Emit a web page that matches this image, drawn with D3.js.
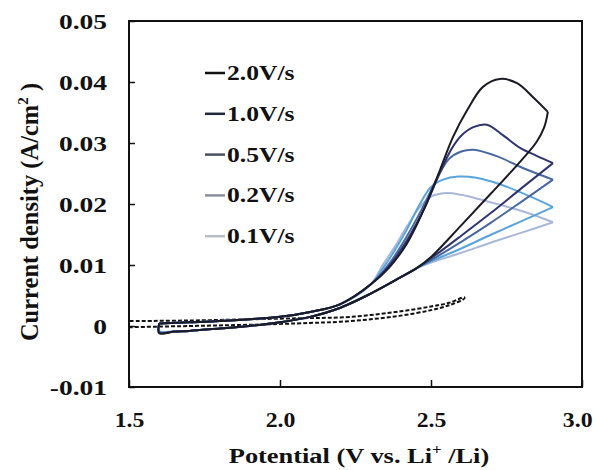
<!DOCTYPE html>
<html><head><meta charset="utf-8">
<script src="https://cdn.jsdelivr.net/npm/d3@7/dist/d3.min.js"></script>
<style>
html,body{margin:0;padding:0;background:#fff;}
text{font-family:"Liberation Serif","Times New Roman",serif;font-weight:bold;fill:#111;}
</style></head>
<body><svg id="c" width="593" height="470"></svg>
<script>
// ---- data ----
const xTicks = [1.5, 2.0, 2.5, 3.0];
const xTickLabels = ["1.5", "2.0", "2.5", "3.0"];
const yTicks = [-0.01, 0, 0.01, 0.02, 0.03, 0.04, 0.05];
const yTickLabels = ["-0.01", "0", "0.01", "0.02", "0.03", "0.04", "0.05"];
const rates = ["2.0V/s", "1.0V/s", "0.5V/s", "0.2V/s", "0.1V/s"];

// start of forward scan at 1.6 V for each rate
const startLow = [-0.0012, -0.0011, -0.0010, -0.0009, -0.0008];
const closeTop = [1.6, 0.0004];
const lowForward = [[1.65,-0.0009],[1.7,-0.0008],[1.8,-0.0004],[1.9,0.0000],[2.0,0.0006],[2.1,0.0015],[2.2,0.0030],[2.3,0.0053],[2.4,0.0080],[2.45,0.0094]];
const lowReturn = [[2.3,0.0068],[2.2,0.0036],[2.1,0.0023],[2.0,0.0015],[1.9,0.0011],[1.8,0.0008],[1.7,0.0006],[1.6,0.0004]];

const rise20 = [[2.5,0.0113],[2.6,0.0165],[2.7,0.0218],[2.8,0.0272],[2.85,0.0302],[2.875,0.0326],[2.887,0.0351]];
const desc20 = [[2.887,0.0351],[2.838,0.0375],[2.785,0.0398],[2.728,0.0405],[2.672,0.0392],[2.62,0.0354],[2.573,0.0310],[2.53,0.0256],[2.48,0.0195],[2.42,0.0135],[2.36,0.0095]];
const rise10 = [[2.5,0.0111],[2.6,0.0148],[2.7,0.0186],[2.8,0.0226],[2.904,0.0267]];
const desc10 = [[2.904,0.0267],[2.85,0.0279],[2.795,0.0292],[2.74,0.0312],[2.685,0.0330],[2.64,0.0326],[2.6,0.0312],[2.57,0.0292],[2.53,0.0252],[2.48,0.0195],[2.42,0.0140],[2.36,0.0098]];
const rise05 = [[2.5,0.0108],[2.6,0.0138],[2.7,0.0170],[2.8,0.0204],[2.904,0.0240]];
const desc05 = [[2.904,0.0240],[2.85,0.0250],[2.795,0.0261],[2.72,0.0278],[2.64,0.0289],[2.6,0.0286],[2.56,0.0274],[2.52,0.0242],[2.47,0.0192],[2.42,0.0147],[2.36,0.0101]];
const rise02 = [[2.5,0.0106],[2.6,0.0127],[2.7,0.0150],[2.8,0.0172],[2.904,0.0195]];
const desc02 = [[2.904,0.0195],[2.83,0.0212],[2.73,0.0232],[2.65,0.0243],[2.59,0.0245],[2.54,0.0240],[2.5,0.0228],[2.46,0.0197],[2.42,0.0158],[2.38,0.0124],[2.34,0.0094]];
const rise01 = [[2.5,0.0104],[2.6,0.0120],[2.7,0.0137],[2.8,0.0153],[2.904,0.0170]];
const desc01 = [[2.904,0.0170],[2.84,0.0182],[2.77,0.0193],[2.68,0.0205],[2.6,0.0215],[2.55,0.0218],[2.5,0.0212],[2.46,0.0193],[2.42,0.0163],[2.38,0.0130],[2.34,0.0100]];

// blank electrode (dashed)
const blankForward = [[1.5,-0.0002],[1.7,0.0000],[1.9,0.0002],[2.1,0.0005],[2.2,0.0007],[2.3,0.0011],[2.4,0.0017],[2.5,0.0026],[2.56,0.0034],[2.61,0.0045]];
const blankReturn = [[2.61,0.0047],[2.56,0.0038],[2.5,0.0032],[2.4,0.0024],[2.3,0.0018],[2.2,0.0014],[2.1,0.0013],[1.9,0.0011],[1.7,0.0009],[1.5,0.0008]];

// ---- styles ----
const colors = ["#1b1b26", "#2f3572", "#4868a0", "#5aa4dc", "#a9b8d8"];
const legendColors = ["#111111", "#23273a", "#4a4f5e", "#8a8f9a", "#b9bcc3"];

const rises = [rise20, rise10, rise05, rise02, rise01];
const descs = [desc20, desc10, desc05, desc02, desc01];

const svg = d3.select("#c");
svg.append("rect").attr("width",593).attr("height",470).attr("fill","#fff");

const L = 129, R = 582, T = 21, B = 387;
const x = d3.scaleLinear().domain([1.5, 3.0]).range([L, R]);
const y = d3.scaleLinear().domain([-0.01, 0.05]).range([B, T]);

const line = d3.line().x(d => x(d[0])).y(d => y(d[1])).curve(d3.curveCatmullRom.alpha(0.5));

// dashed blank
svg.append("path").datum(blankForward.concat(blankReturn))
  .attr("d", line).attr("fill","none").attr("stroke","#111")
  .attr("stroke-width",2).attr("stroke-dasharray","4,2");

// CV loops, lightest first
for (let k = rates.length - 1; k >= 0; k--) {
  const fwd = [closeTop, [1.6, startLow[k]]].concat(lowForward, rises[k]);
  const rev = descs[k].concat(lowReturn);
  [fwd, rev].forEach(pts => {
    svg.append("path").datum(pts).attr("d", line)
      .attr("fill","none").attr("stroke", colors[k])
      .attr("stroke-width", 2).attr("stroke-linejoin","round");
  });
}

// frame
svg.append("rect").attr("x",L).attr("y",T).attr("width",R-L).attr("height",B-T)
  .attr("fill","none").attr("stroke","#111").attr("stroke-width",2);

// axes
const yAxis = svg.append("g").attr("transform",`translate(${L},0)`)
  .call(d3.axisLeft(y).tickValues(yTicks).tickFormat((d,i)=>yTickLabels[i])
        .tickSizeInner(-6).tickSizeOuter(0).tickPadding(0));
yAxis.select(".domain").remove();
yAxis.selectAll("line").attr("stroke","#111").attr("stroke-width",1.5);
const sy = 1.25;
yAxis.selectAll("text").attr("font-size",22).attr("x", -22/sy).attr("dy","0.34em")
  .attr("transform",`scale(${sy},1)`).attr("fill","#111");

const xAxis = svg.append("g").attr("transform",`translate(0,${B})`)
  .call(d3.axisBottom(x).tickValues(xTicks).tickFormat((d,i)=>xTickLabels[i])
        .tickSizeInner(-7).tickSizeOuter(0).tickPadding(0));
xAxis.select(".domain").remove();
xAxis.selectAll("line").attr("stroke","#111").attr("stroke-width",1.5);
const sx = 1.08;
xAxis.selectAll(".tick").each(function(d, i){
  const g = d3.select(this);
  const last = i === xTicks.length - 1;
  g.select("text").attr("x",0).attr("y",0).attr("dy",0)
   .attr("text-anchor", last ? "end" : "middle")
   .attr("transform",`translate(${last ? 592 - x(d) : 0},40) scale(${sx},1)`)
   .attr("font-size",22).attr("fill","#111");
});

// axis titles
const xt = svg.append("text").attr("text-anchor","middle")
  .attr("transform","translate(359,463) scale(1.2,1)").attr("font-size",22);
xt.append("tspan").text("Potential (V vs. Li");
xt.append("tspan").attr("dy",-9).attr("font-size",14).text("+");
xt.append("tspan").attr("dy",9).text(" /Li)");

const yt = svg.append("text").attr("text-anchor","middle")
  .attr("transform","translate(38,212) rotate(-90)").attr("font-size",24.5);
yt.append("tspan").text("Current density (A/cm");
yt.append("tspan").attr("dy",-10).attr("font-size",15).text("2");
yt.append("tspan").attr("dy",10).text(" )");

// legend
rates.forEach((r,i) => {
  const by = 80 + i*40.8;
  svg.append("line").attr("x1",205).attr("x2",225).attr("y1",by-7).attr("y2",by-7)
    .attr("stroke",legendColors[i]).attr("stroke-width",2.5);
  svg.append("text").attr("transform",`translate(227,${by}) scale(1.28,1)`)
    .attr("font-size",20).text(r);
});
</script></body></html>
